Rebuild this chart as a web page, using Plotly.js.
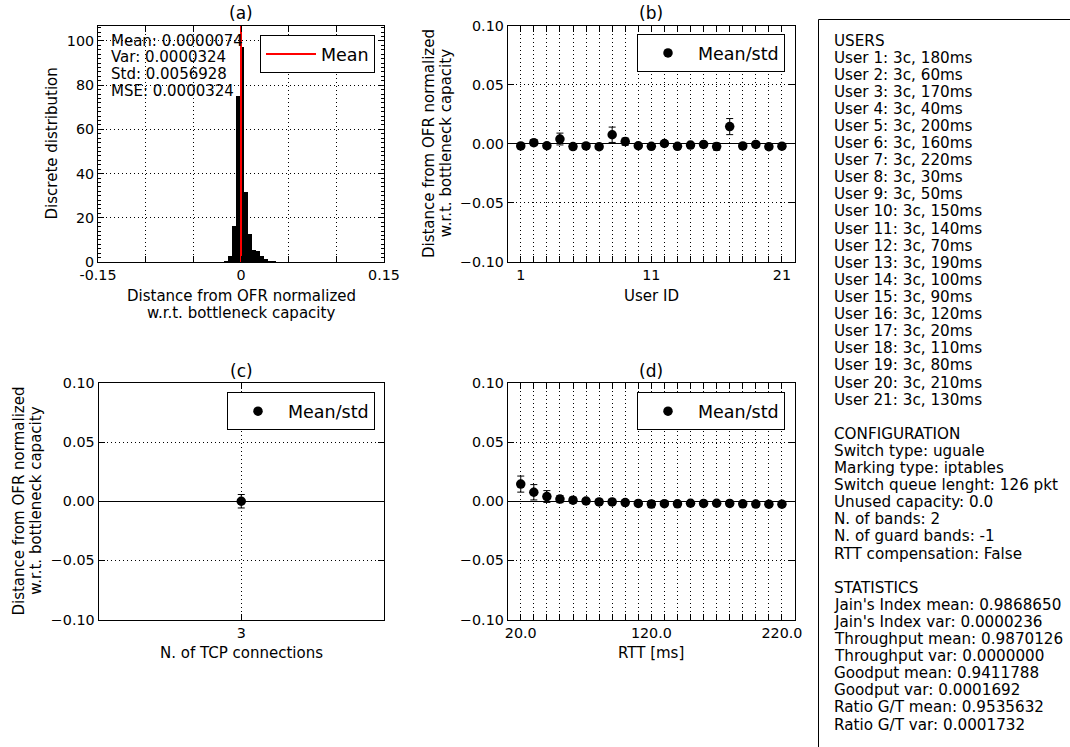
<!DOCTYPE html>
<html>
<head>
<meta charset="utf-8">
<script src="https://cdn.plot.ly/plotly-3.0.1.min.js"></script>
<style>html,body{margin:0;padding:0;background:#fff;}#chart{width:1070px;height:747px;}</style>
</head>
<body>
<div id="chart"></div>
<script>
// ---------------- DATA ----------------
// (a) histogram: bin centers and density
const histCenters = [-0.0161,-0.0119,-0.0077,-0.0035,0.0007,0.0049,0.0091,0.0133,0.0175,0.0217,0.0259,0.0301,0.0343,0.0385,0.0427];
const histDensity = [0.4,2.7,16.5,75.0,97.3,31.6,12.6,5.6,5.0,2.6,1.5,0.5,0.3,0.2,0.2];
const histBinWidth = 0.0042;
const statLabels = ["Mean", "Var", "Std", "MSE"];
const statValues = ["0.0000074", "0.0000324", "0.0056928", "0.0000324"];
const meanValue = 0.0000074;

// (b) per user
const userIds = [1,2,3,4,5,6,7,8,9,10,11,12,13,14,15,16,17,18,19,20,21];
const userConn = [3,3,3,3,3,3,3,3,3,3,3,3,3,3,3,3,3,3,3,3,3];
const userRtt = [180,60,170,40,200,160,220,30,50,150,140,70,190,100,90,120,20,110,80,210,130];
const userMean = [-0.0018,0.0009,-0.0017,0.0040,-0.0024,-0.0018,-0.0025,0.0076,0.0018,-0.0017,-0.0022,0.0002,-0.0022,-0.0011,-0.0006,-0.0024,0.0145,-0.0018,-0.0006,-0.0025,-0.0021];
const userStd = [0.002,0.0025,0.002,0.005,0.002,0.002,0.002,0.0065,0.003,0.002,0.002,0.0022,0.002,0.002,0.002,0.003,0.0068,0.002,0.002,0.002,0.002];

// (c) per number of TCP connections
const connValues = [3];
const connMean = [0.0000074];
const connStd = [0.0056928];

// (d) per RTT
const rttValues = [20,30,40,50,60,70,80,90,100,110,120,130,140,150,160,170,180,190,200,210,220];
const rttMean = [0.0145,0.0076,0.0040,0.0018,0.0009,0.0002,-0.0006,-0.0006,-0.0011,-0.0018,-0.0024,-0.0021,-0.0022,-0.0017,-0.0018,-0.0017,-0.0018,-0.0022,-0.0024,-0.0025,-0.0025];
const rttStd = [0.0068,0.0065,0.005,0.003,0.0025,0.0022,0.002,0.002,0.002,0.002,0.003,0.002,0.002,0.002,0.002,0.002,0.002,0.002,0.002,0.002,0.002];

// text box
const configLines = ["Switch type: uguale","Marking type: iptables","Switch queue lenght: 126 pkt","Unused capacity: 0.0","N. of bands: 2","N. of guard bands: -1","RTT compensation: False"];
const statisticsLines = ["Jain's Index mean: 0.9868650","Jain's Index var: 0.0000236","Throughput mean: 0.9870126","Throughput var: 0.0000000","Goodput mean: 0.9411788","Goodput var: 0.0001692","Ratio G/T mean: 0.9535632","Ratio G/T var: 0.0001732"];

// ---------------- LAYOUT HELPERS ----------------
const W = 1070, H = 747;
const FONT = "DejaVu Sans";
const px = x => x / W;
const py = y => 1 - y / H;
const TICKF = {family: FONT, size: 14.3, color: "#000"};
const GRIDDASH = "1px,3px";

const boxA = {l: 98, r: 384, t: 25.5, b: 262};
const boxB = {l: 507.7, r: 795, t: 25.5, b: 262};
const boxC = {l: 98.5, r: 384, t: 383, b: 619.5};
const boxD = {l: 507.7, r: 795, t: 383, b: 619.5};

function axisBase(extra) {
  return Object.assign({
    showline: true, linecolor: "#000", linewidth: 1, mirror: "ticks",
    ticks: "inside", ticklen: 6, tickcolor: "#000", tickwidth: 1,
    showgrid: true, gridcolor: "#000", gridwidth: 1, griddash: GRIDDASH,
    zeroline: false, tickfont: TICKF, fixedrange: true
  }, extra);
}
function sparseText(vals, keep, fmt) {
  return vals.map(v => keep.includes(v) ? fmt(v) : "");
}
const yTickVals = [-0.1, -0.05, 0, 0.05, 0.1];
const yTickText = ["\u22120.10", "\u22120.05", "0.00", "0.05", "0.10"];

// ---------------- TRACES ----------------
const traces = [
  {type: "bar", x: histCenters, y: histDensity, width: histBinWidth,
   marker: {color: "#000", line: {width: 0}}, xaxis: "x", yaxis: "y", showlegend: false, hoverinfo: "skip"},
  {type: "scatter", mode: "lines", x: [meanValue, meanValue], y: [0, 107], name: "Mean",
   line: {color: "#ff0000", width: 2}, xaxis: "x", yaxis: "y", legend: "legend"},
  {type: "scatter", mode: "markers", x: userIds, y: userMean, name: "Mean/std",
   error_y: {type: "data", array: userStd, visible: true, color: "#000", thickness: 1, width: 3.5},
   marker: {color: "#000", size: 9.5, symbol: "circle"}, xaxis: "x2", yaxis: "y2", legend: "legend2"},
  {type: "scatter", mode: "markers", x: connValues, y: connMean, name: "Mean/std",
   error_y: {type: "data", array: connStd, visible: true, color: "#000", thickness: 1, width: 3.5},
   marker: {color: "#000", size: 9.5, symbol: "circle"}, xaxis: "x3", yaxis: "y3", legend: "legend3"},
  {type: "scatter", mode: "markers", x: rttValues, y: rttMean, name: "Mean/std",
   error_y: {type: "data", array: rttStd, visible: true, color: "#000", thickness: 1, width: 3.5},
   marker: {color: "#000", size: 9.5, symbol: "circle"}, xaxis: "x4", yaxis: "y4", legend: "legend4"}
];

// ---------------- ANNOTATIONS ----------------
const ann = [];
function txt(text, x, y, opts) {
  ann.push(Object.assign({text: text, xref: "paper", yref: "paper", x: px(x), y: py(y),
    showarrow: false, xanchor: "center", yanchor: "middle",
    font: {family: FONT, size: 15, color: "#000"}}, opts || {}));
}
const TITLEF = {family: FONT, size: 17, color: "#000"};
// titles
txt("(a)", (boxA.l + boxA.r) / 2, 13, {font: TITLEF});
txt("(b)", (boxB.l + boxB.r) / 2, 13, {font: TITLEF});
txt("(c)", (boxC.l + boxC.r) / 2, 371, {font: TITLEF});
txt("(d)", (boxD.l + boxD.r) / 2, 371, {font: TITLEF});
// x axis titles
txt("Distance from OFR normalized", (boxA.l + boxA.r) / 2, 295.5);
txt("w.r.t. bottleneck capacity", (boxA.l + boxA.r) / 2, 312.5);
txt("User ID", (boxB.l + boxB.r) / 2, 296);
txt("N. of TCP connections", (boxC.l + boxC.r) / 2, 653);
txt("RTT [ms]", (boxD.l + boxD.r) / 2, 653);
// y axis titles
txt("Discrete distribution", 51.7, (boxA.t + boxA.b) / 2, {textangle: -90});
txt("Distance from OFR normalized", 428.3, (boxB.t + boxB.b) / 2, {textangle: -90});
txt("w.r.t. bottleneck capacity", 445.5, (boxB.t + boxB.b) / 2, {textangle: -90});
txt("Distance from OFR normalized", 19.3, (boxC.t + boxC.b) / 2, {textangle: -90});
txt("w.r.t. bottleneck capacity", 36.5, (boxC.t + boxC.b) / 2, {textangle: -90});
// stats in (a)
statLabels.forEach((l, i) => txt(l + ": " + statValues[i], 109, 40.7 + i * 16.7, {xanchor: "left"}));
// right text box
const rightLines = ["USERS"];
userIds.forEach((u, i) => rightLines.push("User " + u + ": " + userConn[i] + "c, " + userRtt[i] + "ms"));
rightLines.push("");
rightLines.push("CONFIGURATION");
configLines.forEach(l => rightLines.push(l));
rightLines.push("");
rightLines.push("STATISTICS");
statisticsLines.forEach(l => rightLines.push(l));
rightLines.forEach((l, i) => { if (l) txt(l, 832, 40.5 + i * 17.1, {xanchor: "left", font: {family: FONT, size: 15.2, color: "#000"}}); });

// ---------------- LAYOUT ----------------
function legendAt(right, top) {
  return {x: px(right), y: py(top), xanchor: "right", yanchor: "top",
    xref: "paper", yref: "paper", bgcolor: "#fff", bordercolor: "#000", borderwidth: 1,
    font: {family: FONT, size: 17.5, color: "#000"}, itemwidth: 50};
}

const layout = {
  width: W, height: H, margin: {l: 0, r: 0, t: 0, b: 0},
  paper_bgcolor: "#fff", plot_bgcolor: "#fff",
  font: {family: FONT, color: "#000"},
  bargap: 0,
  xaxis: axisBase({domain: [px(boxA.l), px(boxA.r)], range: [-0.15, 0.15], anchor: "y",
    tickvals: [-0.15, -0.1, -0.05, 0, 0.05, 0.1, 0.15],
    ticktext: ["-0.15", "", "", "0", "", "", "0.15"]}),
  yaxis: axisBase({domain: [py(boxA.b), py(boxA.t)], range: [0, 107], anchor: "x",
    tickvals: [0, 20, 40, 60, 80, 100],
    minor: {ticks: "inside", ticklen: 3, dtick: 2, tickcolor: "#000", showgrid: false}}),
  xaxis2: axisBase({domain: [px(boxB.l), px(boxB.r)], range: [0, 22], anchor: "y2",
    tickvals: userIds, ticktext: sparseText(userIds, [1, 11, 21], v => String(v))}),
  yaxis2: axisBase({domain: [py(boxB.b), py(boxB.t)], range: [-0.1, 0.1], anchor: "x2",
    tickvals: yTickVals, ticktext: yTickText,
    zeroline: true, zerolinecolor: "#000", zerolinewidth: 1.3}),
  xaxis3: axisBase({domain: [px(boxC.l), px(boxC.r)], range: [2, 4], anchor: "y3",
    tickvals: connValues, ticktext: connValues.map(String)}),
  yaxis3: axisBase({domain: [py(boxC.b), py(boxC.t)], range: [-0.1, 0.1], anchor: "x3",
    tickvals: yTickVals, ticktext: yTickText,
    zeroline: true, zerolinecolor: "#000", zerolinewidth: 1.3}),
  xaxis4: axisBase({domain: [px(boxD.l), px(boxD.r)], range: [10, 230], anchor: "y4",
    tickvals: rttValues, ticktext: sparseText(rttValues, [20, 120, 220], v => v.toFixed(1))}),
  yaxis4: axisBase({domain: [py(boxD.b), py(boxD.t)], range: [-0.1, 0.1], anchor: "x4",
    tickvals: yTickVals, ticktext: yTickText,
    zeroline: true, zerolinecolor: "#000", zerolinewidth: 1.3}),
  legend: legendAt(375, 35),
  legend2: legendAt(785, 34),
  legend3: legendAt(375, 392.3),
  legend4: legendAt(785, 392.3),
  shapes: [
    {type: "rect", xref: "paper", yref: "paper", x0: px(818.5), x1: 1.02, y0: -0.02, y1: py(19.5),
     line: {color: "#000", width: 1}, fillcolor: "rgba(0,0,0,0)"}
  ],
  annotations: ann
};

Plotly.newPlot("chart", traces, layout, {displayModeBar: false, staticPlot: true});
</script>
</body>
</html>
